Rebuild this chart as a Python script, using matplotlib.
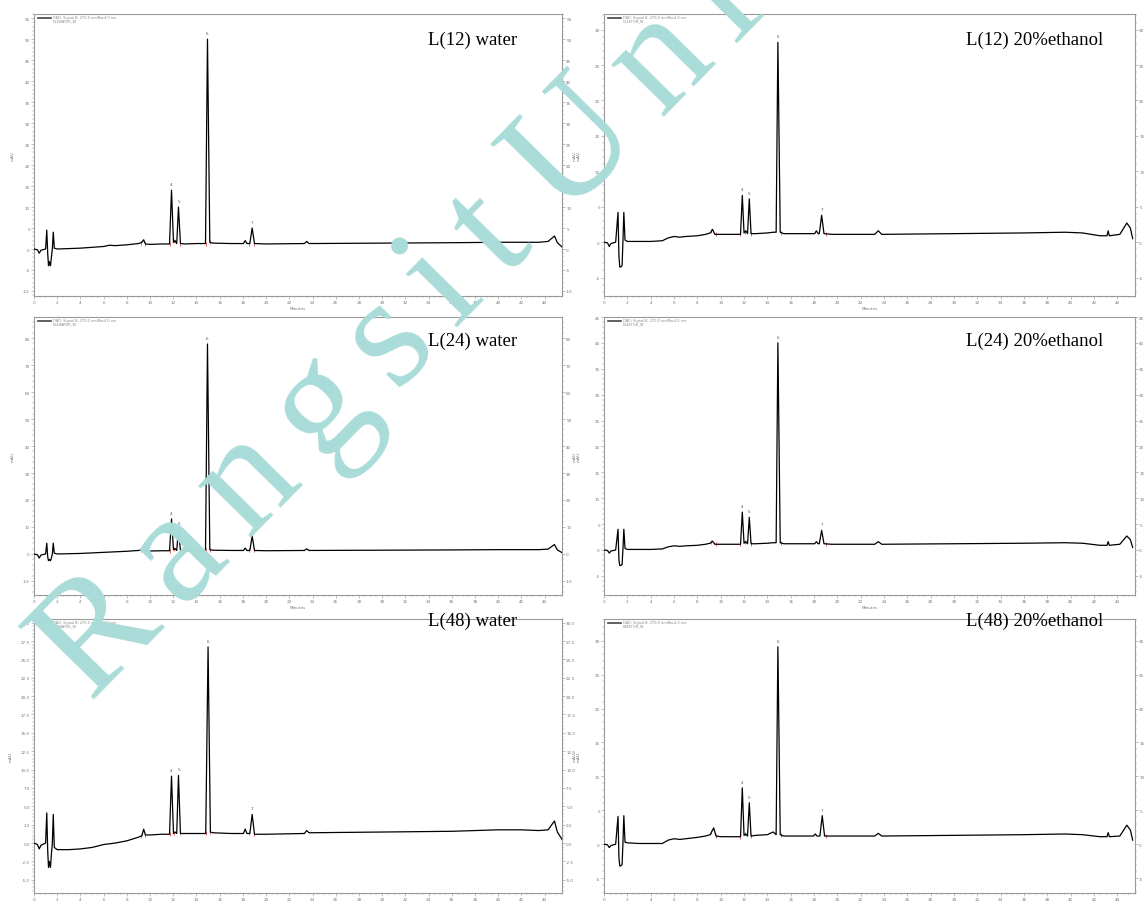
import numpy as np
import matplotlib
matplotlib.use("Agg")
import matplotlib.pyplot as plt
from matplotlib.ticker import MultipleLocator, FormatStrFormatter

# ---------------- data ----------------
titles = ["L(12) water", "L(12) 20%ethanol", "L(24) water",
          "L(24) 20%ethanol", "L(48) water", "L(48) 20%ethanol"]
legend_names = ["F12WATER_W", "F12ETOH_W", "F24WATER_W",
                "F24ETOH_W", "F48WATER_W", "F48ETOH_W"]
signal_name = "DAD: Signal B, 270.0 nm/Bw:4.0 nm"
watermark = "Rangsit University"

# L(12) water
t_a = [0, 0.3, 0.45, 0.6, 1.0, 1.1, 1.18, 1.25, 1.32, 1.42, 1.5, 1.58, 1.66, 1.75, 2.0, 3.0, 4.0,
       5.0, 6.0, 6.5, 7.0, 8.0, 9.0, 9.3, 9.45, 9.6, 10.0, 11.0, 11.68, 11.85, 12.02, 12.15,
       12.3, 12.45, 12.62, 13.0, 14.0, 14.78, 14.95, 15.15, 15.4, 17.0, 18.05, 18.2, 18.35,
       18.6, 18.8, 19.0, 20.0, 23.3, 23.5, 23.7, 30.0, 36.0, 40.0, 42.0, 43.5, 44.3, 44.85,
       45.1, 45.5]
y_a = [0, -0.2, -1.0, -0.3, 0, 4.5, -1.0, -4.0, -3.0, -4.0, -2.0, 0, 4.0, 0.2, 0, 0.1, 0.2,
       0.4, 0.6, 0.9, 0.8, 1.0, 1.3, 1.6, 2.2, 1.2, 1.1, 1.2, 1.2, 14.0, 1.6, 2.0,
       1.3, 10.0, 1.3, 1.2, 1.3, 1.3, 50.0, 1.6, 1.4, 1.3, 1.3, 2.0, 1.3,
       1.3, 5.0, 1.3, 1.2, 1.3, 1.8, 1.3, 1.4, 1.5, 1.6, 1.6, 1.6, 1.8, 3.1,
       1.5, 0.5]

# L(12) 20% ethanol
t_b = [0, 0.3, 0.45, 0.6, 1.0, 1.2, 1.28, 1.35, 1.45, 1.55, 1.62, 1.7, 1.8, 2.0, 3.0, 4.0, 5.0,
       5.5, 6.0, 6.5, 7.0, 8.0, 8.7, 9.1, 9.3, 9.5, 10.0, 11.0, 11.7, 11.85, 12.0, 12.15, 12.3,
       12.45, 12.6, 13.0, 14.0, 14.5, 14.75, 14.9, 15.1, 15.4, 17.0, 18.05, 18.2, 18.35, 18.45,
       18.65, 18.85, 19.5, 23.2, 23.5, 23.8, 30.0, 36.0, 39.5, 41.0, 42.5, 43.1, 43.2, 43.3,
       44.2, 44.8, 45.1, 45.3]
y_b = [0, -0.1, -0.6, -0.2, 0, 4.2, -2.0, -3.5, -3.5, -3.3, 0, 4.2, 0.3, 0.1, 0.1, 0.1, 0.2,
       0.6, 0.8, 0.7, 0.8, 0.9, 1.1, 1.3, 1.8, 1.1, 1.1, 1.1, 1.1, 6.6, 1.3, 1.6, 1.2,
       6.1, 1.2, 1.2, 1.3, 1.4, 1.4, 28.2, 1.4, 1.2, 1.2, 1.2, 1.6, 1.2, 1.2,
       3.8, 1.2, 1.1, 1.1, 1.6, 1.1, 1.2, 1.3, 1.4, 1.3, 0.9, 0.9, 1.6, 0.9,
       1.1, 2.7, 2.0, 0.5]

# L(24) water
t_c = [0, 0.3, 0.45, 0.6, 1.0, 1.1, 1.18, 1.25, 1.32, 1.42, 1.5, 1.58, 1.66, 1.75, 2.0, 3.0, 4.0,
       5.0, 6.0, 7.0, 8.0, 9.0, 9.3, 9.45, 9.6, 10.0, 11.0, 11.68, 11.85, 12.02, 12.15,
       12.3, 12.45, 12.62, 13.0, 14.0, 14.78, 14.95, 15.15, 15.4, 17.0, 18.05, 18.2, 18.35,
       18.6, 18.8, 19.0, 20.0, 23.3, 23.5, 23.7, 30.0, 36.0, 40.0, 42.0, 43.5, 44.3, 44.85,
       45.1, 45.5]
y_c = [0, -0.3, -1.5, -0.4, 0, 4.0, -1.0, -2.5, -2.0, -2.5, -1.5, 0, 4.0, 0.3, 0, 0.1, 0.2,
       0.4, 0.6, 0.8, 1.0, 1.3, 1.6, 2.5, 1.2, 1.1, 1.2, 1.2, 13.0, 1.6, 2.0,
       1.3, 9.3, 1.3, 1.2, 1.3, 1.3, 77.8, 1.6, 1.4, 1.3, 1.3, 2.2, 1.3,
       1.3, 6.7, 1.3, 1.2, 1.3, 1.9, 1.3, 1.4, 1.5, 1.6, 1.6, 1.6, 1.8, 3.5,
       1.5, 0.5]

# L(24) 20% ethanol
t_d = list(t_b)
y_d = [0, -0.1, -0.6, -0.2, 0, 4.0, -2.0, -3.0, -3.0, -2.8, 0, 4.0, 0.3, 0.1, 0.1, 0.1, 0.2,
       0.6, 0.8, 0.7, 0.8, 0.9, 1.1, 1.3, 1.7, 1.1, 1.1, 1.1, 1.1, 7.3, 1.3, 1.6, 1.2,
       6.3, 1.2, 1.2, 1.3, 1.4, 1.4, 40.0, 1.4, 1.2, 1.2, 1.2, 1.6, 1.2, 1.2,
       3.8, 1.2, 1.1, 1.1, 1.6, 1.1, 1.2, 1.3, 1.4, 1.3, 0.9, 0.9, 1.6, 0.9,
       1.1, 2.7, 2.0, 0.5]

# L(48) water
t_e = [0, 0.3, 0.45, 0.6, 1.0, 1.1, 1.18, 1.25, 1.32, 1.42, 1.5, 1.58, 1.66, 1.75, 2.0, 3.0, 4.0,
       5.0, 6.0, 7.0, 8.0, 9.0, 9.3, 9.45, 9.6, 10.0, 11.0, 11.68, 11.85, 12.02, 12.15,
       12.3, 12.45, 12.62, 13.0, 14.0, 14.8, 15.0, 15.2, 15.4, 17.0, 18.05, 18.2, 18.35,
       18.6, 18.8, 19.0, 20.0, 23.3, 23.5, 23.7, 30.0, 36.0, 40.0, 42.0, 43.5, 44.3, 44.85,
       45.1, 45.5]
y_e = [0, -0.2, -0.8, -0.3, 0, 4.1, -1.0, -3.3, -2.5, -3.3, -1.5, 0, 3.9, -0.6, -0.9, -0.9, -0.8,
       -0.6, -0.2, 0.0, 0.3, 0.8, 1.0, 1.9, 1.1, 1.1, 1.2, 1.2, 9.1, 1.3, 1.5,
       1.3, 9.2, 1.3, 1.3, 1.3, 1.3, 26.7, 1.5, 1.4, 1.3, 1.3, 1.9, 1.3,
       1.3, 3.9, 1.2, 1.2, 1.3, 1.7, 1.4, 1.5, 1.6, 1.8, 1.8, 1.7, 1.8, 3.0,
       1.5, 0.5]

# L(48) 20% ethanol
t_f = [0, 0.3, 0.45, 0.6, 1.0, 1.2, 1.28, 1.35, 1.45, 1.55, 1.62, 1.7, 1.8, 2.0, 3.0, 4.0, 5.0,
       5.5, 6.0, 6.5, 7.0, 8.0, 8.7, 9.1, 9.4, 9.6, 10.0, 11.0, 11.7, 11.85, 12.0, 12.15, 12.3,
       12.45, 12.6, 13.0, 14.0, 14.5, 14.75, 14.9, 15.1, 15.4, 17.0, 17.95, 18.1, 18.25, 18.5,
       18.7, 18.9, 19.5, 23.2, 23.5, 23.8, 30.0, 36.0, 39.5, 41.0, 42.5, 43.1, 43.2, 43.3,
       44.2, 44.8, 45.1, 45.3]
y_f = [0, -0.1, -0.5, -0.2, 0, 4.1, -2.0, -3.2, -3.2, -3.0, 0, 4.2, 0.3, 0.2, 0.1, 0.1, 0.1,
       0.6, 0.8, 0.7, 0.8, 1.0, 1.2, 1.4, 2.4, 1.2, 1.1, 1.1, 1.1, 8.3, 1.3, 1.5, 1.2,
       6.1, 1.2, 1.3, 1.4, 1.8, 1.4, 29.1, 1.4, 1.2, 1.2, 1.2, 1.5, 1.2, 1.2,
       4.2, 1.2, 1.2, 1.2, 1.6, 1.2, 1.3, 1.4, 1.5, 1.4, 1.1, 1.1, 1.7, 1.1,
       1.2, 2.8, 2.1, 0.6]

traces_t = [t_a, t_b, t_c, t_d, t_e, t_f]
traces_y = [y_a, y_b, y_c, y_d, y_e, y_f]

# labelled peaks (retention time, label)
peaks_a = [(11.85, "4"), (12.45, "5"), (14.95, "6"), (18.8, "7")]
peaks_b = [(11.85, "4"), (12.45, "5"), (14.9, "6"), (18.65, "7")]
peaks_c = [(11.85, "4"), (12.45, "5"), (14.95, "6"), (18.8, "7")]
peaks_d = [(11.85, "4"), (12.45, "5"), (14.9, "6"), (18.65, "7")]
peaks_e = [(11.85, "4"), (12.45, "5"), (15.0, "6"), (18.8, "7")]
peaks_f = [(11.85, "4"), (12.45, "5"), (14.9, "6"), (18.7, "7")]
peaks = [peaks_a, peaks_b, peaks_c, peaks_d, peaks_e, peaks_f]

# red integration marks (retention time)
red_marks = [9.2, 9.6, 11.68, 12.1, 12.62, 14.78, 15.2, 18.55, 19.0]

# y ranges and tick steps
ylims = [(-11.2, 56.0), (-7.6, 32.2), (-15.2, 87.8), (-8.7, 45.0), (-6.8, 30.5), (-7.2, 33.2)]
ysteps = [5, 5, 10, 5, 2.5, 5]
yfmt = ["%d", "%d", "%d", "%d", "%.1f", "%d"]
xlim = (0, 45.5)

# ---------------- layout ----------------
W, H = 1146, 904
fig = plt.figure(figsize=(W / 100, H / 100), dpi=100)

cols = [(34, 562), (604, 1135)]
rows = [(15, 297), (318, 596), (620, 894)]
title_y = [40, 341, 621]
title_x = [517, 1103]

grey = "#8c8c8c"
for i in range(6):
    r, c = divmod(i, 2)
    x0, x1 = cols[c]
    yt, yb = rows[r]
    ax = fig.add_axes([x0 / W, 1 - yb / H, (x1 - x0) / W, (yb - yt) / H])
    t = np.array(traces_t[i], float)
    y = np.array(traces_y[i], float)
    ax.plot(t, y, color="black", lw=0.9, zorder=3)
    rm = np.array(red_marks)
    ax.plot(rm, np.interp(rm, t, y), linestyle="none", marker="|", color="#d03030",
            markersize=3, mew=0.5, zorder=2)
    for pt, lab in peaks[i]:
        py = np.interp(pt, t, y)
        ax.annotate(lab, (pt, py), xytext=(0, 3), textcoords="offset points",
                    ha="center", va="bottom", fontsize=3, color="#555555")
    ax.set_xlim(*xlim)
    ax.set_ylim(*ylims[i])
    ax.xaxis.set_major_locator(MultipleLocator(2))
    ax.xaxis.set_minor_locator(MultipleLocator(0.5))
    ax.yaxis.set_major_locator(MultipleLocator(ysteps[i]))
    ax.yaxis.set_minor_locator(MultipleLocator(ysteps[i] / 5))
    ax.yaxis.set_major_formatter(FormatStrFormatter(yfmt[i]))
    ax.tick_params(axis="both", which="major", labelsize=3, colors=grey, length=2,
                   width=0.4, pad=1.0, labelcolor="#777777")
    ax.tick_params(axis="both", which="minor", colors=grey, length=1.3, width=0.3)
    for s in ax.spines.values():
        s.set_color("#9a9a9a")
        s.set_linewidth(0.8)
    ax2 = ax.twinx()
    ax2.set_ylim(*ylims[i])
    ax2.yaxis.set_major_locator(MultipleLocator(ysteps[i]))
    ax2.yaxis.set_minor_locator(MultipleLocator(ysteps[i] / 5))
    ax2.yaxis.set_major_formatter(FormatStrFormatter(yfmt[i]))
    ax2.tick_params(axis="y", which="major", labelsize=3, colors=grey, length=2,
                    width=0.4, pad=1.0, labelcolor="#777777")
    ax2.tick_params(axis="y", which="minor", colors=grey, length=1.3, width=0.3)
    for s in ax2.spines.values():
        s.set_visible(False)
    if r < 2:
        ax.set_xlabel("Minutes", fontsize=3, color="#777777", labelpad=1)
    ax.set_ylabel("mAU" if c == 0 else "mAU\nmAU", fontsize=3, color="#777777",
                  labelpad=6 if c == 0 else 10, linespacing=0.9)
    # legend
    ax.plot([0.008, 0.032], [0.985, 0.985], transform=ax.transAxes, color="#444444", lw=1.2)
    ax.text(0.036, 0.99, signal_name, transform=ax.transAxes, fontsize=2.5,
            color="#888888", va="center")
    ax.text(0.036, 0.976, legend_names[i], transform=ax.transAxes, fontsize=2.5,
            color="#888888", va="center")
    fig.text(title_x[c] / W, 1 - title_y[r] / H, titles[i], ha="right", va="center",
             fontsize=13.5, family="Liberation Serif", color="black")

# watermark: letters set along a diagonal baseline with extra letter spacing
adv = {"R": .667, "a": .444, "n": .5, "g": .5, "s": .389, "i": .278, "t": .278,
       " ": .1, "U": .722, "v": .5, "e": .444, "r": .333, "y": .5}
wm_size = 116
em = wm_size * 100 / 72.0
track = 24.0
ang = np.deg2rad(45.5)
px, py = 88.0, H - 700.0
for ch in watermark:
    fig.text(px / W, py / H, ch, rotation=np.rad2deg(ang), rotation_mode="anchor",
             ha="left", va="baseline", fontsize=wm_size, family="Liberation Serif",
             color="#a9dcd9", zorder=20)
    step = adv.get(ch, 0.5) * em + (track if ch != " " else 0.0)
    px += step * np.cos(ang)
    py += step * np.sin(ang)

fig.savefig("out.png", dpi=100)
